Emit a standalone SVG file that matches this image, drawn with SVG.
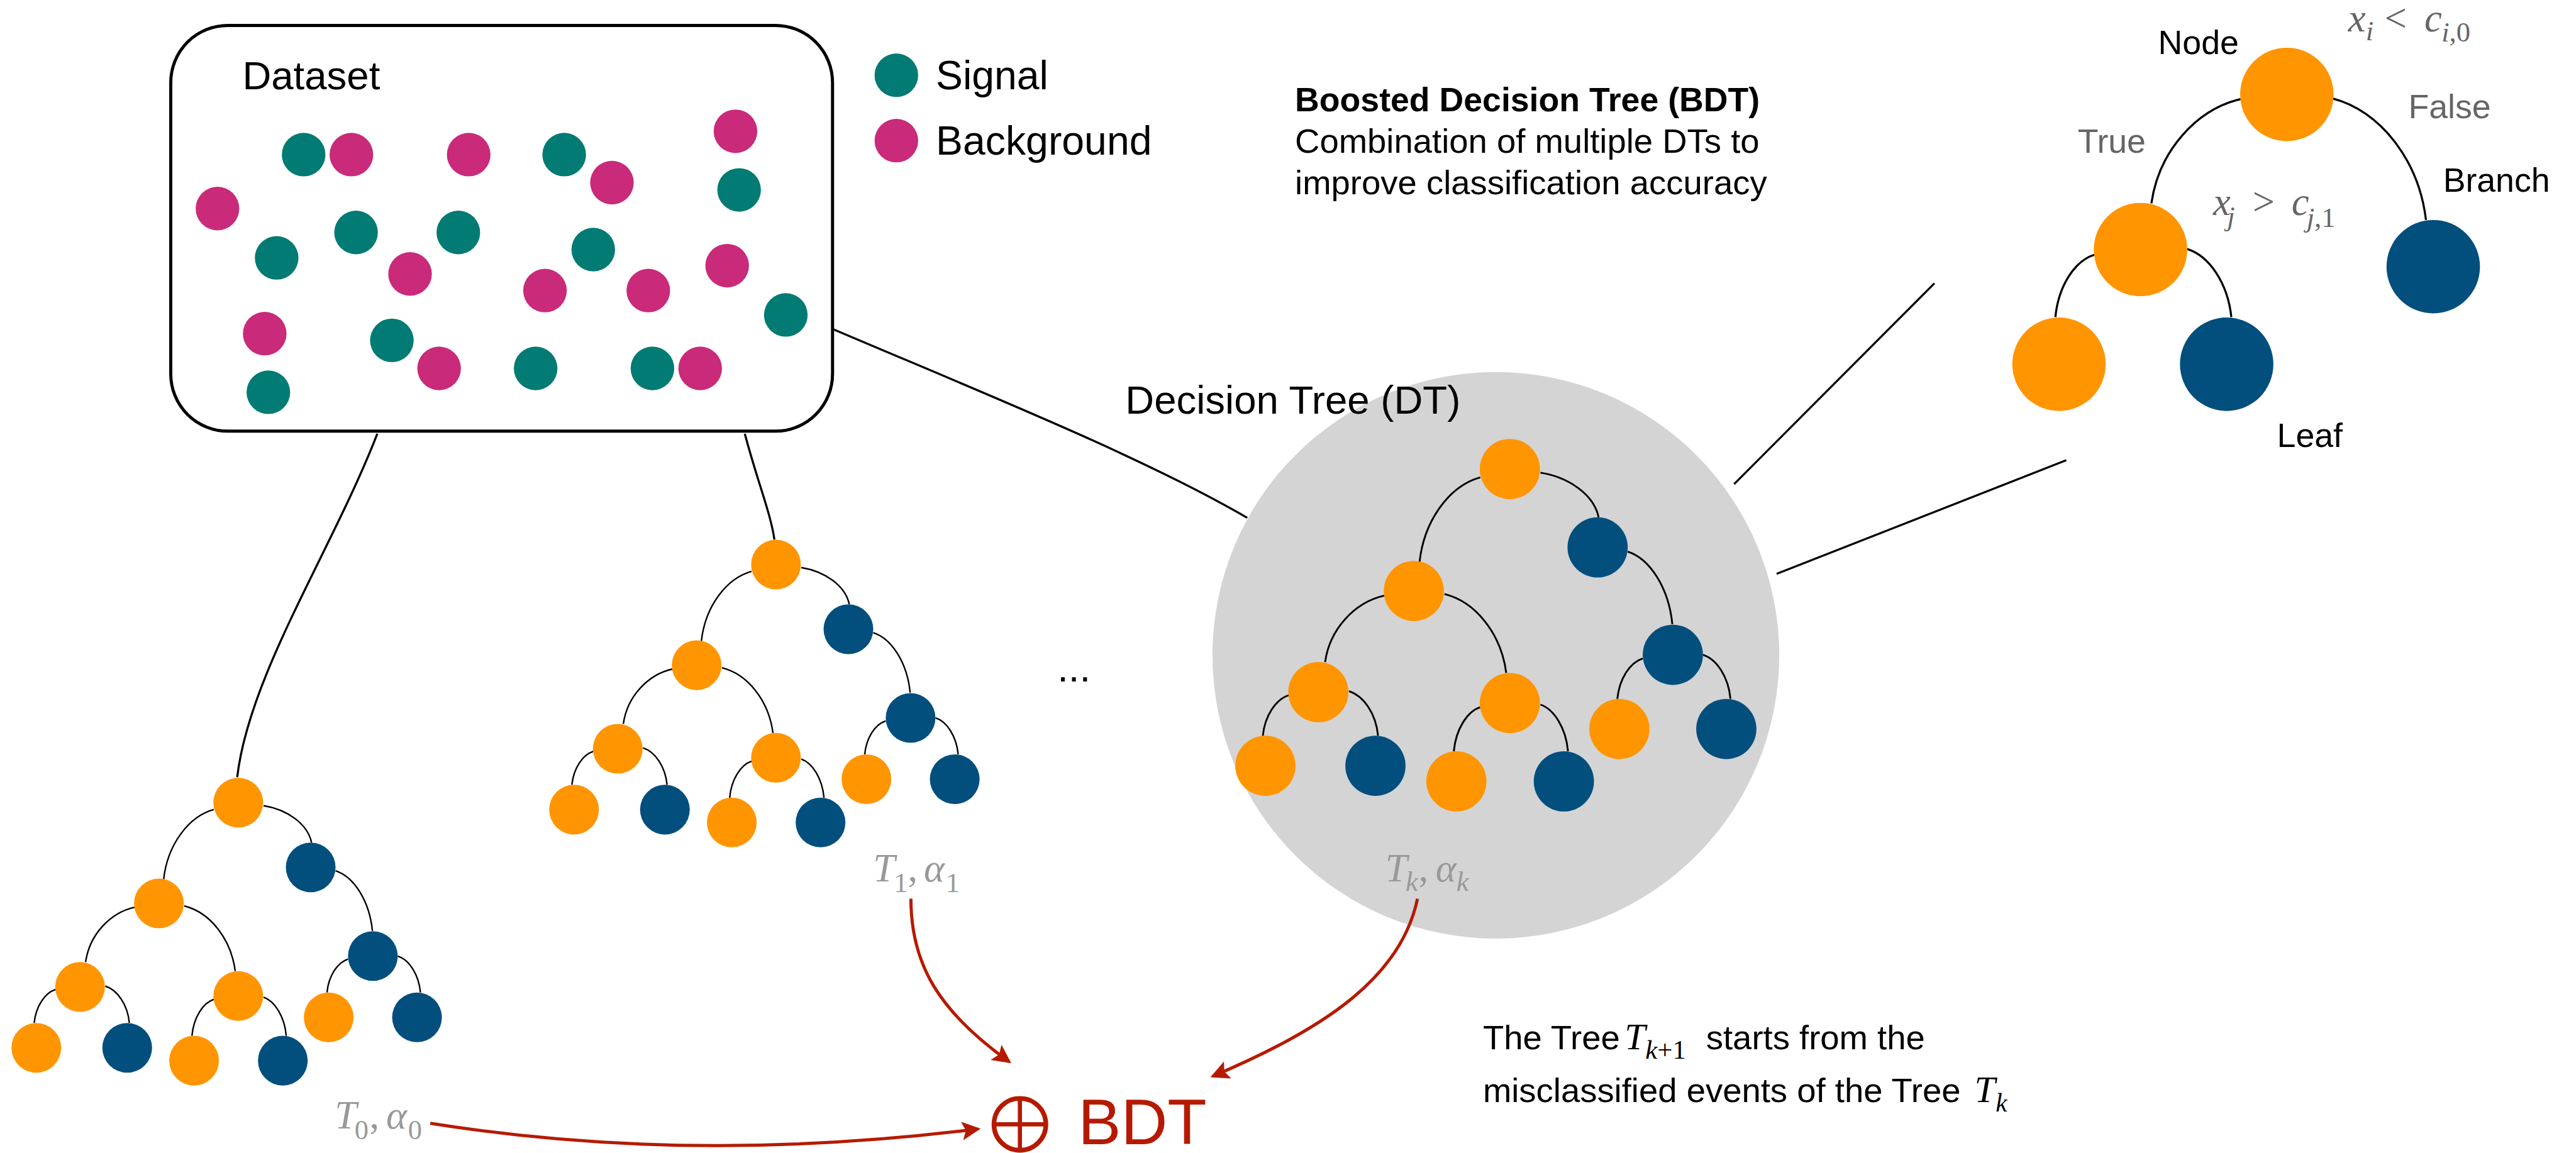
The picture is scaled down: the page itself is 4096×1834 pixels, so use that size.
<svg xmlns="http://www.w3.org/2000/svg" width="4096" height="1834" viewBox="0 0 4096 1834">
<style>
.sans{font-family:"Liberation Sans",Arial,sans-serif}
.math{font-family:"Liberation Serif","Times New Roman",serif;font-style:italic}
.up{font-style:normal}
.or{fill:#FF9500}.bl{fill:#024F7E}.te{fill:#017B73}.mg{fill:#C92A7A}
.edge{fill:none;stroke:#000;stroke-width:3.5}
.link{fill:none;stroke:#000;stroke-width:4}
.red{fill:none;stroke:#B51A00;stroke-width:6}
</style>
<defs>
<marker id="ah" viewBox="0 0 10 10" refX="8.5" refY="5" markerWidth="7" markerHeight="6" orient="auto" markerUnits="strokeWidth">
<path d="M0,0 L10,5 L0,10 L2,5 z" fill="#B51A00"/>
</marker>
<g id="tree">
<path class="edge" d="M-57,16 C-115,32 -165,97 -174,179"/>
<path class="edge" d="M59,7 C115,16 162,50 171,93"/>
<path class="edge" d="M227,159 C270,173 306,229 313,299"/>
<path class="edge" d="M-242,244 C-299,257 -347,308 -356,372"/>
<path class="edge" d="M-126,241 C-66,256 -17,317 -7,393"/>
<path class="edge" d="M-426,436 C-451,444 -472,475 -476,514"/>
<path class="edge" d="M-310,428 C-282,437 -258,471 -254,514"/>
<path class="edge" d="M-57,459 C-82,467 -104,501 -108,544"/>
<path class="edge" d="M59,454 C85,463 108,499 112,544"/>
<path class="edge" d="M256,365 C231,373 211,404 207,443"/>
<path class="edge" d="M372,358 C398,366 421,400 425,443"/>
<circle class="or" cx="0" cy="0" r="58"/>
<circle class="bl" cx="169" cy="151" r="58"/>
<circle class="or" cx="-185" cy="235" r="58"/>
<circle class="bl" cx="314" cy="358" r="58"/>
<circle class="or" cx="-369" cy="430" r="58"/>
<circle class="or" cx="0" cy="451" r="58"/>
<circle class="or" cx="-471" cy="572" r="58"/>
<circle class="bl" cx="-259" cy="572" r="58"/>
<circle class="or" cx="-103" cy="602" r="58"/>
<circle class="bl" cx="104" cy="602" r="58"/>
<circle class="or" cx="211" cy="501" r="58"/>
<circle class="bl" cx="417" cy="501" r="58"/>
</g>
</defs>
<rect width="4096" height="1834" fill="#fff"/>
<g transform="scale(0.8253)">

<g id="dt-circle"><circle cx="2882" cy="1263" r="546" fill="#D4D4D4"/></g>

<g id="connectors">
<path class="link" d="M1604,634 C1900,760 2200,880 2403,998"/>
<path class="link" d="M727,836 C640,1060 480,1300 457,1498"/>
<path class="link" d="M1435,836 C1460,930 1485,990 1492,1040"/>
<line class="link" x1="3727" y1="546" x2="3341" y2="933"/>
<line class="link" x1="3981" y1="887" x2="3423" y2="1106"/>
<path class="red" marker-end="url(#ah)" d="M829,2165 Q1330,2245 1884,2176"/>
<path class="red" marker-end="url(#ah)" d="M1755,1732 C1755,1860 1810,1950 1944,2046"/>
<path class="red" marker-end="url(#ah)" d="M2731,1732 C2700,1880 2560,1980 2337,2074"/>
<path class="edge" style="stroke-width:4" d="M4317,191 C4231,211 4159,292 4145,392"/>
<path class="edge" style="stroke-width:4" d="M4495,190 C4584,213 4660,307 4674,424"/>
<path class="edge" style="stroke-width:4" d="M4035,491 C3997,503 3966,551 3960,611"/>
<path class="edge" style="stroke-width:4" d="M4214,480 C4256,493 4292,545 4299,611"/>
</g>

<g id="dataset">
<rect x="329" y="49" width="1275" height="782" rx="110" ry="110" fill="#fff" stroke="#000" stroke-width="6"/>
<text class="sans" x="467" y="172" font-size="77">Dataset</text>
<g class="te">
<circle cx="585" cy="298" r="42"/><circle cx="1087" cy="298" r="42"/><circle cx="1424" cy="366" r="42"/>
<circle cx="686" cy="448" r="42"/><circle cx="883" cy="448" r="42"/><circle cx="533" cy="497" r="42"/>
<circle cx="1143" cy="481" r="42"/><circle cx="1514" cy="607" r="42"/><circle cx="755" cy="656" r="42"/>
<circle cx="1032" cy="710" r="42"/><circle cx="1257" cy="710" r="42"/><circle cx="517" cy="756" r="42"/>
</g>
<g class="mg">
<circle cx="677" cy="298" r="42"/><circle cx="903" cy="298" r="42"/><circle cx="1417" cy="253" r="42"/>
<circle cx="1179" cy="352" r="42"/><circle cx="419" cy="402" r="42"/><circle cx="790" cy="528" r="42"/>
<circle cx="1050" cy="560" r="42"/><circle cx="1249" cy="560" r="42"/><circle cx="1401" cy="512" r="42"/>
<circle cx="510" cy="643" r="42"/><circle cx="846" cy="710" r="42"/><circle cx="1349" cy="710" r="42"/>
</g>
</g>

<g id="legend">
<circle class="te" cx="1727" cy="145" r="42"/>
<text class="sans" x="1803" y="172" font-size="78">Signal</text>
<circle class="mg" cx="1727" cy="271" r="42"/>
<text class="sans" x="1803" y="298" font-size="78">Background</text>
</g>

<g id="bdt-desc" class="sans" font-size="66">
<text x="2495" y="215" font-weight="bold" font-size="65">Boosted Decision Tree (BDT)</text>
<text x="2495" y="295">Combination of multiple DTs to</text>
<text x="2495" y="375">improve classification accuracy</text>
</g>

<g id="tree-T0"><use href="#tree" transform="translate(459,1547) scale(0.826)"/></g>
<g id="tree-T1"><use href="#tree" transform="translate(1495,1088) scale(0.826)"/></g>
<g id="tree-Tk"><use href="#tree" transform="translate(2909,904)"/></g>

<text id="dt-label" class="sans" x="2168" y="797" font-size="77">Decision Tree (DT)</text>
<text id="ellipsis" class="sans" x="2037" y="1313" font-size="77">...</text>

<g id="label-T0" class="math" fill="#999" font-size="76">
<text x="645" y="2175">T</text><text class="up" x="683" y="2196" font-size="54">0</text><text class="up" x="712" y="2175">,</text>
<text x="744" y="2175">α</text><text class="up" x="786" y="2196" font-size="54">0</text>
</g>
<g id="label-T1" class="math" fill="#999" font-size="76">
<text x="1682" y="1699">T</text><text class="up" x="1722" y="1719" font-size="54">1</text><text class="up" x="1749" y="1699">,</text>
<text x="1780" y="1699">α</text><text class="up" x="1822" y="1719" font-size="54">1</text>
</g>
<g id="label-Tk" class="math" fill="#999" font-size="76">
<text x="2669" y="1699">T</text><text x="2708" y="1717" font-size="54">k</text><text class="up" x="2733" y="1699">,</text>
<text x="2766" y="1699">α</text><text x="2806" y="1717" font-size="54">k</text>
</g>

<g id="bdt-result" fill="#B51A00">
<circle cx="1965" cy="2167" r="50" fill="none" stroke="#B51A00" stroke-width="9"/>
<line x1="1965" y1="2117" x2="1965" y2="2217" stroke="#B51A00" stroke-width="8"/>
<line x1="1915" y1="2167" x2="2015" y2="2167" stroke="#B51A00" stroke-width="8"/>
<text class="sans" x="2077" y="2205" font-size="124">BDT</text>
</g>

<g id="note" font-size="66">
<text class="sans" x="2857" y="2022">The Tree</text>
<text class="math" x="3130" y="2022" font-size="72">T</text>
<text class="math" x="3170" y="2040" font-size="52">k<tspan class="up">+1</tspan></text>
<text class="sans" x="3287" y="2022">starts from the</text>
<text class="sans" x="2857" y="2124">misclassified events of the Tree</text>
<text class="math" x="3804" y="2124" font-size="72">T</text>
<text class="math" x="3845" y="2142" font-size="50">k</text>
</g>

<g id="zoom-tree">
<g id="z-root"><circle class="or" cx="4406" cy="182" r="90"/></g>
<g id="z-left"><circle class="or" cx="4124" cy="481" r="90"/></g>
<g id="z-right"><circle class="bl" cx="4688" cy="514" r="90"/></g>
<g id="z-ll"><circle class="or" cx="3967" cy="702" r="90"/></g>
<g id="z-lr"><circle class="bl" cx="4290" cy="702" r="90"/></g>
<text class="sans" x="4158" y="104" font-size="65">Node</text>
<text class="sans" x="4003" y="295" font-size="65" fill="#666">True</text>
<text class="sans" x="4640" y="228" font-size="65" fill="#666">False</text>
<text class="sans" x="4707" y="369" font-size="65">Branch</text>
<text class="sans" x="4387" y="861" font-size="65">Leaf</text>
<g class="math" fill="#666" font-size="76">
<text x="4524" y="61">x</text><text x="4558" y="78" font-size="54">i</text>
<text class="up" x="4594" y="61">&lt;</text>
<text x="4671" y="61">c</text><text x="4704" y="80" font-size="54">i<tspan class="up">,0</tspan></text>
<text x="4264" y="415">x</text><text x="4291" y="435" font-size="54">j</text>
<text class="up" x="4340" y="415">&gt;</text>
<text x="4415" y="415">c</text><text x="4444" y="437" font-size="54">j<tspan class="up">,1</tspan></text>
</g>
</g>
</g>
</svg>
